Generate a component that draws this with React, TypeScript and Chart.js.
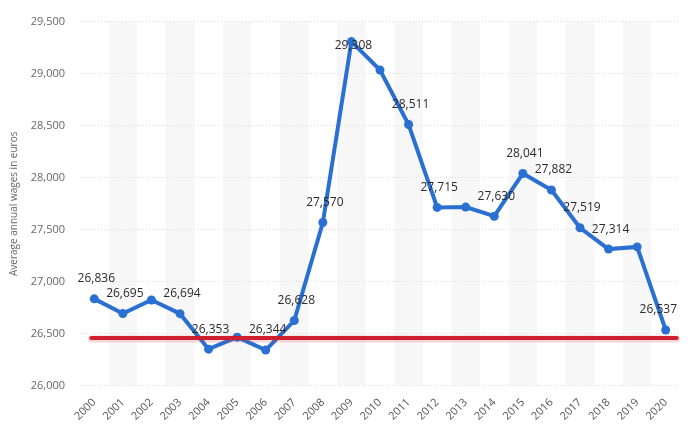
import React, { useEffect, useRef } from "react";
import { Chart, registerables } from "chart.js";

Chart.register(...registerables);

const years = [
  "2000", "2001", "2002", "2003", "2004", "2005", "2006", "2007", "2008", "2009", "2010",
  "2011", "2012", "2013", "2014", "2015", "2016", "2017", "2018", "2019", "2020",
];
const wages = [
  26836, 26695, 26825, 26694, 26353, 26468, 26344, 26628, 27570, 29308, 29035,
  28511, 27715, 27718, 27630, 28041, 27882, 27519, 27314, 27335, 26537,
];
const showValueLabel = [
  true, true, false, true, true, false, true, true, true, true, false,
  true, true, false, true, true, true, true, true, false, true,
];
const yMin = 26000;
const yMax = 29500;
const yStep = 500;
const referenceValue = 26460;
const yAxisTitle = "Average annual wages in euros";

const fmt = (v: number) => v.toLocaleString("en-US");

const bandsPlugin = {
  id: "bands",
  beforeDraw(chart: any) {
    const { ctx, chartArea, scales } = chart;
    const x = scales.x;
    ctx.save();
    ctx.fillStyle = "#f7f7f7";
    for (let i = 1; i < years.length; i += 2) {
      const c = x.getPixelForValue(i);
      const half = (x.getPixelForValue(1) - x.getPixelForValue(0)) / 2;
      ctx.fillRect(c - half, chartArea.top, half * 2, chartArea.bottom - chartArea.top);
    }
    ctx.restore();
  },
};

const refAndLabelsPlugin = {
  id: "refAndLabels",
  afterDatasetsDraw(chart: any) {
    const { ctx, chartArea, scales } = chart;
    const x = scales.x;
    const y = scales.y;
    const ry = y.getPixelForValue(referenceValue);
    const x0 = x.getPixelForValue(0) - 3;
    const x1 = x.getPixelForValue(years.length - 1) + 11;
    ctx.save();
    ctx.lineCap = "round";
    ctx.strokeStyle = "rgba(210, 40, 50, 0.18)";
    ctx.lineWidth = 7;
    ctx.beginPath();
    ctx.moveTo(x0, ry + 1);
    ctx.lineTo(x1, ry + 1);
    ctx.stroke();
    ctx.strokeStyle = "#cf1f2e";
    ctx.lineWidth = 4;
    ctx.beginPath();
    ctx.moveTo(x0, ry);
    ctx.lineTo(x1, ry);
    ctx.stroke();

    const meta = chart.getDatasetMeta(0);
    ctx.font = "12px 'Open Sans', sans-serif";
    ctx.fillStyle = "#2b2b2b";
    ctx.textAlign = "center";
    ctx.textBaseline = "middle";
    meta.data.forEach((pt: any, i: number) => {
      if (!showValueLabel[i]) return;
      const text = fmt(wages[i]);
      const w = ctx.measureText(text).width;
      let cx = pt.x + 2;
      if (cx + w / 2 > chartArea.right - 3) cx = chartArea.right - 3 - w / 2;
      let cy = pt.y - 20;
      if (cy < chartArea.top + 24) cy = chartArea.top + 24;
      ctx.fillText(text, cx, cy);
    });
    ctx.restore();
  },
};

export default function App() {
  const ref = useRef<HTMLCanvasElement | null>(null);
  useEffect(() => {
    if (!ref.current) return;
    Chart.defaults.font.family = "'Open Sans', sans-serif";
    const chart = new Chart(ref.current, {
      type: "line",
      data: {
        labels: years,
        datasets: [
          {
            data: wages,
            borderColor: "#2a6fd2",
            backgroundColor: "#2a6fd2",
            borderWidth: 4,
            pointRadius: 4.5,
            pointBorderWidth: 0,
            pointHoverRadius: 4.5,
            tension: 0,
          },
        ],
      },
      options: {
        animation: false,
        responsive: true,
        maintainAspectRatio: false,
        layout: { padding: { left: 8, right: 10, top: 20, bottom: 0 } },
        plugins: { legend: { display: false }, tooltip: { enabled: false } },
        scales: {
          x: {
            offset: true,
            grid: { display: false },
            border: { display: false },
            ticks: {
              color: "#555555",
              font: { size: 11 },
              maxRotation: 45,
              minRotation: 45,
              padding: 2,
            },
          },
          y: {
            min: yMin,
            max: yMax,
            afterFit: (s: any) => {
              s.width = 72;
            },
            ticks: {
              stepSize: yStep,
              color: "#666666",
              font: { size: 11 },
              padding: 15,
              callback: (v: any) => fmt(Number(v)),
            },
            grid: { color: "#dddddd", drawTicks: false, lineWidth: 1 },
            border: { display: false, dash: [1, 2] },
            title: {
              display: true,
              text: yAxisTitle,
              color: "#666666",
              font: { size: 10 },
              padding: { top: 0, bottom: 4 },
            },
          },
        },
      },
      plugins: [bandsPlugin, refAndLabelsPlugin],
    });
    return () => chart.destroy();
  }, []);
  return (
    <div style={{ position: "fixed", left: 0, top: 0, width: 690, height: 425, background: "#fff" }}>
      <canvas ref={ref} />
    </div>
  );
}
